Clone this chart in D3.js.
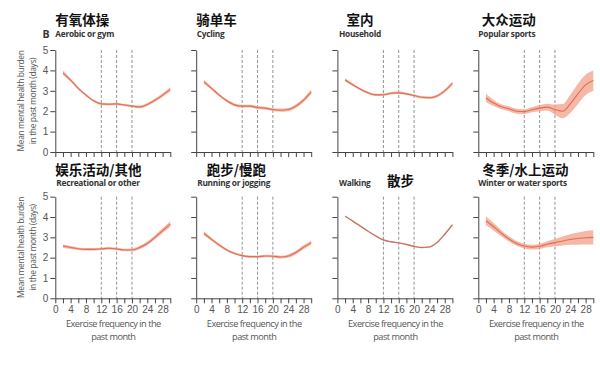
<!DOCTYPE html>
<html>
<head>
<meta charset="utf-8">
<style>
  body { margin: 0; background: #fff; }
  text { font-family: "Open Sans", "Noto Sans", sans-serif; }
  .zh { font-family: "Noto Sans CJK SC", sans-serif; font-weight: 700; fill: #111; }
  .en { font-weight: 700; fill: #333; }
  .axis text { fill: #555; font-family: "Liberation Sans", sans-serif; }
  .axis path, .axis line { stroke: #444; }
</style>
<script src="https://d3js.org/d3.v7.min.js"></script>
</head>
<body>
<script>
const freq = [2, 4, 6, 8, 10, 12, 14, 16, 18, 20, 22, 24, 26, 28, 30];
const cutoffs = [12, 16, 20];

const titlesZh = ["有氧体操", "骑单车", "室内", "大众运动", "娱乐活动/其他", "跑步/慢跑", "散步", "冬季/水上运动"];
const titlesEn = ["Aerobic or gym", "Cycling", "Household", "Popular sports", "Recreational or other", "Running or jogging", "Walking", "Winter or water sports"];

// mean burden and half width of the band
const aerobicMean = [3.88, 3.52, 3.12, 2.79, 2.51, 2.36, 2.34, 2.36, 2.3, 2.25, 2.21, 2.33, 2.54, 2.79, 3.07];
const aerobicCi = [0.1, 0.08, 0.07, 0.07, 0.06, 0.06, 0.06, 0.06, 0.06, 0.06, 0.07, 0.07, 0.08, 0.09, 0.1];
const cyclingMean = [3.44, 3.12, 2.79, 2.51, 2.31, 2.25, 2.25, 2.18, 2.15, 2.08, 2.05, 2.08, 2.25, 2.54, 2.95];
const cyclingCi = [0.1, 0.08, 0.07, 0.07, 0.07, 0.07, 0.07, 0.07, 0.07, 0.07, 0.08, 0.08, 0.09, 0.1, 0.11];
const householdMean = [3.53, 3.3, 3.08, 2.9, 2.8, 2.81, 2.88, 2.9, 2.85, 2.77, 2.68, 2.66, 2.75, 3.0, 3.37];
const householdCi = [0.08, 0.07, 0.06, 0.06, 0.06, 0.06, 0.06, 0.06, 0.06, 0.06, 0.06, 0.06, 0.07, 0.08, 0.09];
const popularMean = [2.65, 2.4, 2.22, 2.12, 2.0, 1.98, 2.07, 2.15, 2.2, 2.08, 2.0, 2.36, 2.85, 3.29, 3.5];
const popularCi = [0.2, 0.15, 0.12, 0.12, 0.12, 0.12, 0.12, 0.15, 0.17, 0.25, 0.35, 0.45, 0.5, 0.5, 0.5];
const recreationalMean = [2.57, 2.5, 2.44, 2.41, 2.41, 2.43, 2.46, 2.43, 2.38, 2.38, 2.5, 2.7, 3.0, 3.33, 3.65];
const recreationalCi = [0.08, 0.07, 0.06, 0.06, 0.06, 0.06, 0.06, 0.06, 0.06, 0.07, 0.08, 0.09, 0.1, 0.12, 0.14];
const runningMean = [3.2, 2.9, 2.62, 2.38, 2.21, 2.1, 2.05, 2.05, 2.08, 2.07, 2.03, 2.08, 2.25, 2.51, 2.74];
const runningCi = [0.1, 0.08, 0.07, 0.06, 0.06, 0.06, 0.06, 0.06, 0.06, 0.06, 0.07, 0.08, 0.09, 0.1, 0.11];
const walkingMean = [4.04, 3.8, 3.55, 3.3, 3.07, 2.87, 2.78, 2.73, 2.65, 2.56, 2.5, 2.53, 2.75, 3.15, 3.62];
const walkingCi = [0.03, 0.03, 0.03, 0.03, 0.03, 0.03, 0.03, 0.03, 0.03, 0.03, 0.03, 0.03, 0.03, 0.03, 0.03];
const winterMean = [3.82, 3.52, 3.2, 2.92, 2.7, 2.57, 2.52, 2.56, 2.66, 2.74, 2.82, 2.89, 2.94, 2.98, 3.0];
const winterCi = [0.22, 0.18, 0.15, 0.13, 0.12, 0.12, 0.12, 0.13, 0.15, 0.18, 0.22, 0.26, 0.3, 0.33, 0.35];

const means = [aerobicMean, cyclingMean, householdMean, popularMean, recreationalMean, runningMean, walkingMean, winterMean];
const cis = [aerobicCi, cyclingCi, householdCi, popularCi, recreationalCi, runningCi, walkingCi, winterCi];

const width = 600, height = 365;
const colX = [55.3, 196.2, 337.4, 478.3];
const plotW = 115;
const rowY = [[152, 50], [298.3, 196.7]];
// title placement relative to the axis left edge
const zhDx = [0, 0, 9, 3.5, 0, 10.5, 49.5, 4];
const enDx = [0, 0.5, 1.5, 0, 1, 1, 1.5, 0];
const zhY = [25, 174.5];
const zhYWalk = 186;
const enY = [37, 186];

const svg = d3.select("body").append("svg")
  .attr("width", width)
  .attr("height", height);

svg.append("text")
  .attr("x", 42.5).attr("y", 37.5)
  .attr("font-size", 10.5).attr("font-weight", 700).attr("fill", "#333")
  .text("B");

means.forEach(function (mean, i) {
  const row = Math.floor(i / 4), col = i % 4;
  const x = d3.scaleLinear().domain([0, 30]).range([colX[col], colX[col] + plotW]);
  const y = d3.scaleLinear().domain([0, 5]).range(rowY[row]);
  const g = svg.append("g");
  const pts = freq.map(function (f, k) { return { f: f, m: mean[k], c: cis[i][k] }; });

  // cut-off lines
  g.selectAll(".cut").data(cutoffs).enter().append("line")
    .attr("x1", d => x(d)).attr("x2", d => x(d))
    .attr("y1", y(5)).attr("y2", y(0))
    .attr("stroke", "#777").attr("stroke-width", 0.8)
    .attr("stroke-dasharray", "3,2");

  const band = d3.area()
    .x(d => x(d.f)).y0(d => y(d.m - d.c)).y1(d => y(d.m + d.c))
    .curve(d3.curveMonotoneX);
  const line = d3.line()
    .x(d => x(d.f)).y(d => y(d.m))
    .curve(d3.curveMonotoneX);

  const walking = i === 6;
  g.append("path").datum(pts).attr("d", band)
    .attr("fill", "#f3a088").attr("opacity", walking ? 0.5 : 0.75);
  g.append("path").datum(pts).attr("d", line)
    .attr("fill", "none")
    .attr("stroke", walking ? "#c97468" : "#dd6f55")
    .attr("stroke-width", walking ? 1.4 : 1.1);

  // axes
  const yAxis = d3.axisLeft(y).tickValues([0, 1, 2, 3, 4, 5]).tickSize(5).tickPadding(2)
    .tickSizeOuter(0).tickFormat(col > 0 ? "" : d3.format("d"));
  const ya = g.append("g").attr("class", "axis")
    .attr("transform", `translate(${colX[col]},0)`).call(yAxis);
  ya.selectAll("text").attr("font-size", 10);

  const xAxis = d3.axisBottom(x).tickValues(d3.range(0, 31, 2)).tickSize(5).tickPadding(3)
    .tickSizeOuter(0)
    .tickFormat(d => (row === 1 && d % 4 === 0) ? d : "");
  const xa = g.append("g").attr("class", "axis")
    .attr("transform", `translate(0,${y(0)})`).call(xAxis);
  xa.selectAll("text").attr("font-size", 10);

  // titles
  g.append("text").attr("class", "zh")
    .attr("x", colX[col] + zhDx[i]).attr("y", walking ? zhYWalk : zhY[row])
    .attr("font-size", 13.5).text(titlesZh[i]);
  g.append("text").attr("class", "en")
    .attr("x", colX[col] + enDx[i]).attr("y", enY[row])
    .attr("font-size", 8.3).attr("letter-spacing", -0.25).text(titlesEn[i]);

  if (row === 1) {
    const cx = colX[col] + plotW / 2 + 0.5;
    g.append("text").attr("x", cx).attr("y", 327).attr("text-anchor", "middle")
      .attr("font-size", 9.2).attr("fill", "#555").attr("letter-spacing", -0.5)
      .text("Exercise frequency in the");
    g.append("text").attr("x", cx).attr("y", 340).attr("text-anchor", "middle")
      .attr("font-size", 9.2).attr("fill", "#555").attr("letter-spacing", -0.5)
      .text("past month");
  }
  if (col === 0) {
    const cy = (rowY[row][0] + rowY[row][1]) / 2;
    g.append("text").attr("transform", `translate(24,${cy}) rotate(-90)`)
      .attr("text-anchor", "middle").attr("font-size", 8.5).attr("fill", "#555")
      .attr("letter-spacing", -0.4)
      .text("Mean mental health burden");
    g.append("text").attr("transform", `translate(36,${cy}) rotate(-90)`)
      .attr("text-anchor", "middle").attr("font-size", 8.5).attr("fill", "#555")
      .attr("letter-spacing", -0.4)
      .text("in the past month (days)");
  }
});
</script>
</body>
</html>
